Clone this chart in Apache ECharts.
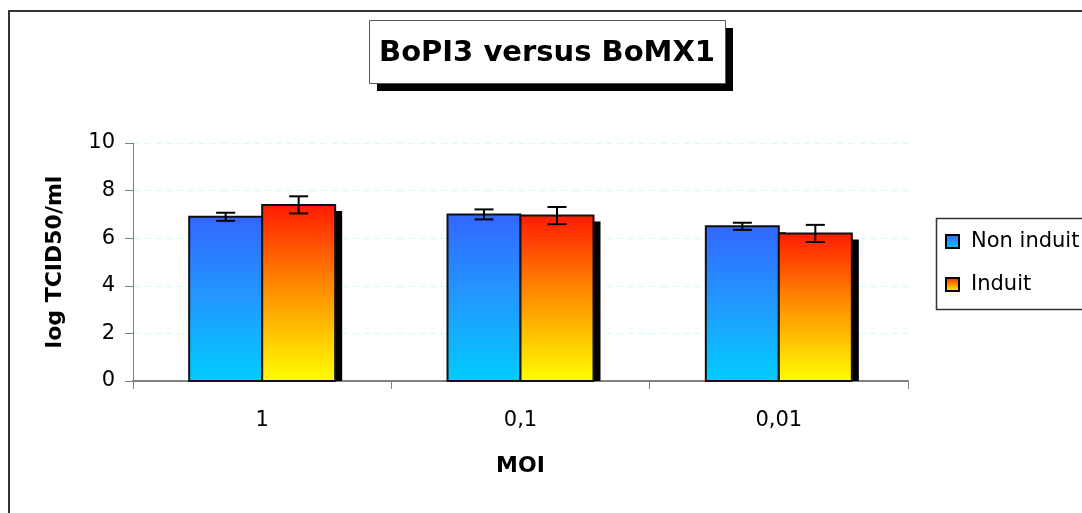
<!DOCTYPE html>
<html>
<head>
<meta charset="utf-8">
<script src="https://cdn.jsdelivr.net/npm/echarts@6/dist/echarts.min.js"></script>
<style>
  html, body { margin: 0; padding: 0; background: #fff; }
  #chart { width: 1082px; height: 513px; }
</style>
</head>
<body>
<div id="chart"></div>
<script>
// MOI categories and titres (log TCID50/ml) with their error margins
const categories = ['1', '0,1', '0,01'];
const nonInduit = [6.9, 7.0, 6.5];
const nonInduitErr = [0.17, 0.21, 0.15];
const induit = [7.4, 6.95, 6.2];
const induitErr = [0.36, 0.36, 0.36];
const yTicks = [0, 2, 4, 6, 8, 10];

const FONT = '"DejaVu Sans", Arial, sans-serif';

const blueFill = new echarts.graphic.LinearGradient(0, 0, 0, 1, [
  { offset: 0, color: '#3366ff' },
  { offset: 0.5, color: '#2299ff' },
  { offset: 1, color: '#00ccff' }
]);
const redFill = new echarts.graphic.LinearGradient(0, 0, 0, 1, [
  { offset: 0, color: '#ff1a00' },
  { offset: 0.45, color: '#ff8800' },
  { offset: 1, color: '#ffff00' }
]);

const BAR_W = 73;
const SHADOW = 7;

// Each bar: drop shadow, gradient body with dark outline, then the error bar.
function barRenderer(values, errors, fill, side) {
  return function (params, api) {
    const i = params.dataIndex;
    const v = values[i];
    const e = errors[i];
    const base = api.coord([i, 0]);
    const top = api.coord([i, v]);
    const hi = api.coord([i, v + e]);
    const lo = api.coord([i, v - e]);
    const x = side < 0 ? base[0] - BAR_W : base[0];
    const cx = x + BAR_W / 2;
    const h = base[1] - top[1];
    const cap = 9.5;
    return {
      type: 'group',
      children: [
        { type: 'rect', shape: { x: x + SHADOW, y: top[1] + SHADOW - 1, width: BAR_W, height: h - SHADOW + 1 },
          style: { fill: '#000' } },
        { type: 'rect', shape: { x: x, y: top[1], width: BAR_W, height: h },
          style: { fill: fill, stroke: '#111', lineWidth: 2 } },
        { type: 'line', shape: { x1: cx, y1: hi[1], x2: cx, y2: lo[1] }, style: { stroke: '#000', lineWidth: 2 } },
        { type: 'line', shape: { x1: cx - cap, y1: hi[1], x2: cx + cap, y2: hi[1] }, style: { stroke: '#000', lineWidth: 2 } },
        { type: 'line', shape: { x1: cx - cap, y1: lo[1], x2: cx + cap, y2: lo[1] }, style: { stroke: '#000', lineWidth: 2 } }
      ]
    };
  };
}

const chart = echarts.init(document.getElementById('chart'), null, { renderer: 'canvas' });

chart.setOption({
  animation: false,
  backgroundColor: '#fff',
  grid: { left: 133, top: 143, right: 174, bottom: 132 },
  xAxis: {
    type: 'category',
    data: categories,
    name: 'MOI',
    nameLocation: 'middle',
    nameGap: 74,
    nameTextStyle: { fontFamily: FONT, fontSize: 22, fontWeight: 'bold', color: '#000' },
    axisLine: { lineStyle: { color: '#808080', width: 2 } },
    axisTick: { show: true, length: 8, lineStyle: { color: '#808080', width: 1 } },
    axisLabel: { fontFamily: FONT, fontSize: 21, color: '#000', margin: 29 },
    splitLine: { show: false }
  },
  yAxis: {
    type: 'value',
    min: yTicks[0],
    max: yTicks[yTicks.length - 1],
    interval: 2,
    name: 'log TCID50/ml',
    nameLocation: 'middle',
    nameGap: 67,
    nameRotate: 90,
    nameTextStyle: { fontFamily: FONT, fontSize: 22, fontWeight: 'bold', color: '#000' },
    axisLine: { show: true, lineStyle: { color: '#808080', width: 1 } },
    axisTick: { show: true, inside: false, length: 8, lineStyle: { color: '#808080' } },
    axisLabel: { fontFamily: FONT, fontSize: 21, color: '#000', margin: 18 },
    splitLine: { show: true, lineStyle: { color: '#ccffff', type: [6, 5], width: 1 } }
  },
  legend: {
    orient: 'vertical',
    left: 945,
    top: 231,
    padding: 0,
    itemWidth: 13,
    itemHeight: 13,
    itemGap: 22,
    icon: 'rect',
    textStyle: { fontFamily: FONT, fontSize: 21, color: '#000', padding: [0, 0, 0, 7] },
    data: [
      { name: 'Non induit', itemStyle: { color: blueFill, borderColor: '#000', borderWidth: 2 } },
      { name: 'Induit', itemStyle: { color: redFill, borderColor: '#000', borderWidth: 2 } }
    ]
  },
  graphic: [
    // outer chart frame
    { type: 'rect', z: -10, shape: { x: 9, y: 11, width: 1100, height: 560 },
      style: { fill: 'none', stroke: '#333', lineWidth: 2 } },
    // legend frame
    { type: 'rect', z: -5, shape: { x: 936.5, y: 218.5, width: 160, height: 91 },
      style: { fill: '#fff', stroke: '#333', lineWidth: 1.5 } },
    // title box with drop shadow
    { type: 'rect', shape: { x: 377, y: 28, width: 356, height: 63 }, style: { fill: '#000' } },
    { type: 'rect', shape: { x: 369.5, y: 20.5, width: 356, height: 63 },
      style: { fill: '#fff', stroke: '#555', lineWidth: 1 } },
    { type: 'text', x: 547, y: 53,
      style: { text: 'BoPI3 versus BoMX1', align: 'center', verticalAlign: 'middle',
               font: 'bold 29px "DejaVu Sans", Arial, sans-serif', fill: '#000' } }
  ],
  series: [
    { name: 'Non induit', type: 'custom', data: nonInduit, itemStyle: { color: blueFill },
      renderItem: barRenderer(nonInduit, nonInduitErr, blueFill, -1), z: 2 },
    { name: 'Induit', type: 'custom', data: induit, itemStyle: { color: redFill },
      renderItem: barRenderer(induit, induitErr, redFill, 1), z: 3 }
  ]
});
</script>
</body>
</html>
